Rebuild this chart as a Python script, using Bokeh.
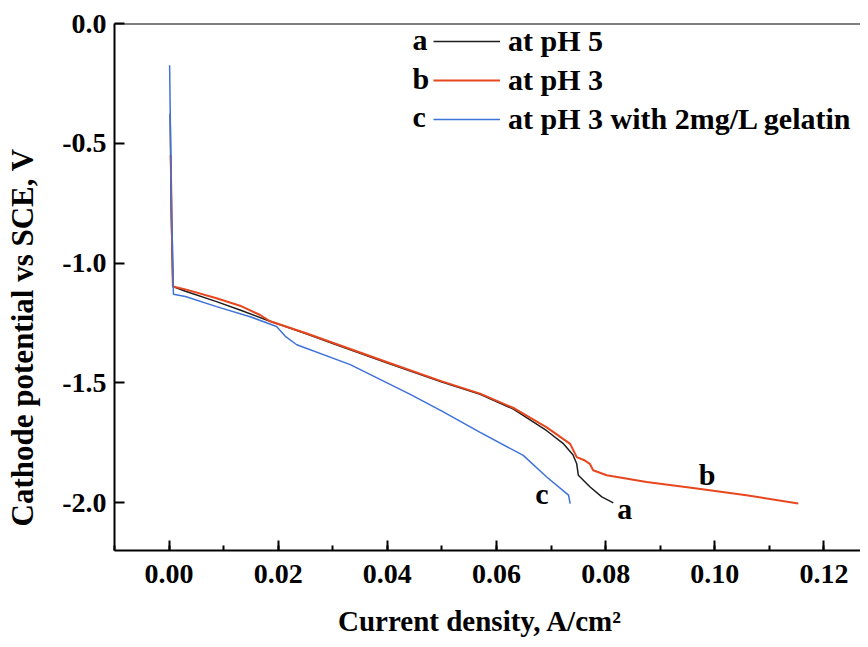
from bokeh.plotting import figure
from bokeh.models import (Range1d, SingleIntervalTicker, NumeralTickFormatter, Label,
                          Legend, LegendItem, Span)
from bokeh.embed import file_html
from bokeh.resources import INLINE

# ---- data ----
a_x = [0.0002, 0.0004, 0.0007, 0.003, 0.0087, 0.013, 0.018, 0.025, 0.03, 0.04, 0.05,
       0.057, 0.0631, 0.0692, 0.0723, 0.0740, 0.0747, 0.0750, 0.0771, 0.0793, 0.0814]
a_y = [-0.377, -0.80, -1.098, -1.118, -1.161, -1.196, -1.239, -1.294, -1.336, -1.417, -1.497,
       -1.548, -1.610, -1.700, -1.755, -1.800, -1.838, -1.886, -1.934, -1.976, -2.001]

b_x = [0.0003, 0.0005, 0.0007, 0.003, 0.0087, 0.013, 0.0167, 0.0185, 0.025, 0.03, 0.04, 0.05,
       0.057, 0.0631, 0.0692, 0.0735, 0.0747, 0.0760, 0.0771, 0.0777, 0.0802, 0.0875, 0.0967,
       0.1058, 0.1153]
b_y = [-0.55, -0.85, -1.098, -1.110, -1.147, -1.178, -1.217, -1.243, -1.292, -1.333, -1.414, -1.494,
       -1.545, -1.605, -1.686, -1.755, -1.810, -1.822, -1.838, -1.865, -1.886, -1.914, -1.941,
       -1.969, -2.004]

c_x = [0.0001, 0.0004, 0.0008, 0.003, 0.0087, 0.015, 0.0197, 0.0213, 0.0234, 0.0332, 0.0442,
       0.050, 0.057, 0.0649, 0.0692, 0.0732, 0.0735]
c_y = [-0.174, -0.70, -1.130, -1.140, -1.182, -1.225, -1.265, -1.306, -1.341, -1.424, -1.548,
       -1.618, -1.707, -1.803, -1.893, -1.969, -2.004]

series_letters = ["a", "b", "c"]
series_labels = ["at pH 5", "at pH 3", "at pH 3 with 2mg/L gelatin"]
series_colors = ["#1e1e1e", "#e8461e", "#3d72d9"]
series_widths = [1.5, 2.0, 1.5]

x_label = "Current density, A/cm\u00b2"
y_label = "Cathode potential vs SCE, V"

FONT = "Liberation Serif"

p = figure(width=860, height=639, output_backend="svg", toolbar_location=None,
           x_range=Range1d(-0.01, 0.1267), y_range=Range1d(-2.2, 0.0),
           min_border_left=114, min_border_right=0, min_border_top=23, min_border_bottom=85)
p.outline_line_color = None
p.xgrid.visible = False
p.ygrid.visible = False
p.background_fill_color = "white"
p.border_fill_color = "white"

# axes
p.xaxis.ticker = SingleIntervalTicker(interval=0.02, num_minor_ticks=2)
p.yaxis.ticker = SingleIntervalTicker(interval=0.5, num_minor_ticks=0)
p.xaxis.formatter = NumeralTickFormatter(format="0.00")
p.yaxis.formatter = NumeralTickFormatter(format="0.0")
for ax in (p.xaxis, p.yaxis):
    ax.axis_line_width = 2
    ax.axis_line_color = "black"
    ax.major_tick_line_width = 2
    ax.major_tick_line_color = "black"
    ax.minor_tick_line_width = 2
    ax.minor_tick_line_color = "black"
    ax.major_tick_in = 10
    ax.major_tick_out = 0
    ax.minor_tick_in = 5
    ax.minor_tick_out = 0
    ax.major_label_text_font = FONT
    ax.major_label_text_font_style = "bold"
    ax.major_label_text_font_size = "28px"
    ax.major_label_text_color = "black"
    ax.axis_label_text_font = FONT
    ax.axis_label_text_font_style = "bold"
    ax.axis_label_text_color = "black"
p.xaxis.major_label_standoff = 14
p.yaxis.major_label_standoff = 8

# axis titles (trailing no-break spaces shift the visible text off-centre as in the reference)
p.xaxis.axis_label = x_label + "\u00a0\u00a0"
p.xaxis.axis_label_text_font_size = "29px"
p.xaxis.axis_label_standoff = 19
p.yaxis.axis_label = y_label + "\u00a0" * 13
p.yaxis.axis_label_text_font_size = "31px"
p.yaxis.axis_label_standoff = 19

# top frame line (right side is cut off in the reference)
p.add_layout(Span(location=0.0, dimension="width", line_color="black", line_width=2))

renderers = []
for xs, ys, col, w in zip([a_x, b_x, c_x], [a_y, b_y, c_y], series_colors, series_widths):
    renderers.append(p.line(xs, ys, line_color=col, line_width=w))

legend = Legend(items=[LegendItem(label=lab, renderers=[r]) for lab, r in zip(series_labels, renderers)],
                location=(319, 414), glyph_width=67, glyph_height=30, label_standoff=8,
                label_text_font=FONT, label_text_font_style="bold", label_text_font_size="30px",
                label_text_color="black",
                label_height=30, spacing=5, padding=0, margin=0,
                border_line_color=None, background_fill_alpha=0)
p.add_layout(legend, "center")

for i, letter in enumerate(series_letters):
    p.add_layout(Label(x=298, y=511 - 38.5 * i, x_units="screen", y_units="screen", text=letter,
                       text_font=FONT, text_font_style="bold", text_font_size="30px",
                       text_color="black", text_align="left", text_baseline="middle"))

# curve letters
for letter, lx, ly in zip(series_letters, [0.0835, 0.0986, 0.0683], [-2.025, -1.881, -1.96]):
    p.add_layout(Label(x=lx, y=ly, text=letter, text_font=FONT, text_font_style="bold",
                       text_font_size="30px", text_color="black",
                       text_align="center", text_baseline="middle"))

open("out.html", "w").write(file_html(p, INLINE))
